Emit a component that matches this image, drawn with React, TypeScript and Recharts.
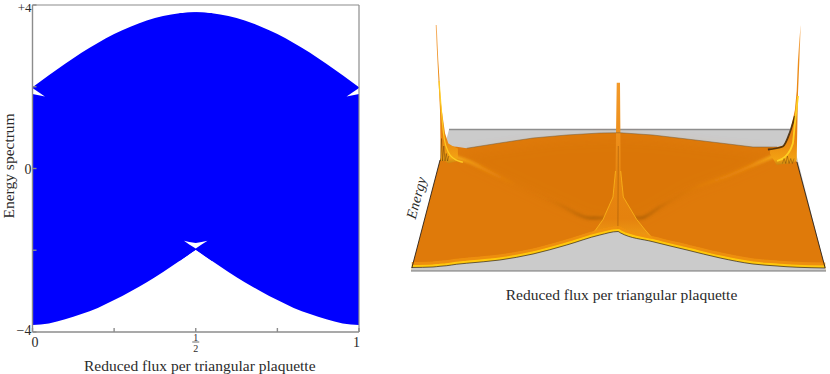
import { ComposedChart, Area, XAxis, YAxis } from 'recharts'

const FONT = '"Liberation Serif", serif'
const AXIS_LABEL = 'Reduced flux per triangular plaquette'
const TEXT = '#2b2b2b'

// left panel: energy spectrum band
const fluxGrid = [0, .05, .1, .15, .2, .25, .3, .35, .4, .45, .5, .55, .6, .65, .7, .75, .8, .85, .9, .95, 1]
const bandTop = [1.99, 2.28, 2.56, 2.83, 3.07, 3.29, 3.47, 3.62, 3.73, 3.8, 3.82, 3.8, 3.73, 3.62, 3.47, 3.29, 3.07, 2.83, 2.56, 2.28, 1.99]
const bandBottom = [-3.83, -3.79, -3.69, -3.56, -3.41, -3.22, -3.01, -2.78, -2.53, -2.26, -1.99, -2.26, -2.53, -2.78, -3.01, -3.22, -3.41, -3.56, -3.69, -3.79, -3.83]

const gapFlux = [.464, .48, .5, .518, .536]
const gapLow = [-1.77, -1.86, -1.957, -1.86, -1.77]
const gapHigh = [-1.77, -1.8, -1.82, -1.8, -1.77]
const leftGapFlux = [0, .038]
const leftGapLow = [1.82, 1.76]
const leftGapHigh = [1.97, 1.76]
const rightGapFlux = [.962, 1]
const rightGapLow = [1.76, 1.82]
const rightGapHigh = [1.76, 1.97]

const xTicks = [0, .25, .5, .75, 1]
const yTicks = [-4, -2, 0, 2, 4]
const yTickLabels: Record<string, string> = { '4': '+4', '0': '0', '-4': '\u22124' }

// right panel: surface outline, x = position across, h = height on screen
const floorFlux = [0, .0916, .913, 1]
const floorTop = [0, 56.6, 56.6, 0]
const bodyFlux = [.002, .053, .07, .085, .11, .134, .214, .294, .375, .455, .499, .504, .583, .665, .745, .824, .882, .906, .93, .998]
const bodyFront = [1.4, 1.6, 1.9, 2.1, 2.7, 3.1, 4.4, 6.8, 10.4, 14.4, 15.8, 15.3, 11.7, 8.4, 5.2, 2.8, 2, 1.7, 1.5, 1.2]
const bodyBack = [1.2, 33.6, 44.4, 50, 49.7, 49.1, 51.2, 53.2, 54.4, 55.2, 55.3, 55.3, 54.4, 52.8, 51.2, 49.6, 49.6, 50.5, 43.6, 1.2]

const shadeFlux = [.13, .19, .36, .431, .5, .552, .6, .672, .769, .841, .87]
const shadeLow = [44, 39.6, 26.4, 21.2, 20, 21.2, 25.6, 32.4, 38.4, 43.6, 46]
const shadeHigh = [47, 48, 52, 52.5, 53, 52.5, 52, 50.5, 48.5, 47.5, 47]

const leftRidgeFlux = [.106, .142, .19, .239, .359, .431, .47, .484]
const leftRidge = [45.6, 43.6, 39.6, 35.6, 26.4, 21.2, 21.2, 24.4]
const rightRidgeFlux = [.513, .523, .552, .6, .672, .769, .841, .88]
const rightRidge = [25.2, 21.6, 21.2, 25.6, 32.4, 38.4, 43.6, 46.4]

const leftSpikeFlux = [.0595, .0619, .0658, .0682, .07, .0715, .074, .082, .09, .1, .113]
const leftSpikeLow = [98.4, 90, 77.7, 70, 64, 44, 44, 44, 43, 43.5, 44]
const leftSpikeHigh = [98.4, 98.4, 84, 77.7, 72, 68, 64.4, 55.1, 51, 50, 49]
const leftArcFlux = [.0675, .08, .09, .103, .125]
const leftArc = [76, 53, 47.5, 45, 43.5]
const leftStreakFlux = [.071, .0735, .076, .079, .082, .085, .088, .091]
const leftStreak = [44, 53, 44, 50, 44, 47, 44, 46]

const rightSpikeFlux = [.865, .881, .896, .913, .925, .9294, .9325, .936, .939]
const rightSpikeLow = [47, 42.4, 42.8, 43, 43.6, 44.4, 71.2, 85, 97.6]
const rightSpikeHigh = [49, 49, 49.6, 55.2, 64.4, 72, 84.4, 93, 98.4]
const rightDarkFlux = [.86, .896, .913, .925]
const rightDark = [48.6, 49.8, 55.5, 62]
const rightArcFlux = [.882, .901, .92, .925, .9325]
const rightArc = [44, 45.6, 51, 59, 70]
const rightStreakFlux = [.895, .899, .903, .907, .911, .915, .919, .923]
const rightStreak = [43, 45, 43, 46, 43, 45, 43, 45]

const centerSpikeFlux = [.419, .443, .4627, .4867, .4928, .4957, .4995, .5036, .5053, .5116, .5439, .5663, .5904]
const centerSpikeLow = [12.6, 13.8, 14.8, 15.4, 15.6, 15.7, 15.8, 15.4, 15.3, 15, 13.4, 12.4, 11.4]
const centerSpikeHigh = [12.7, 16, 20.6, 29.6, 40, 75.3, 75.3, 75.3, 40, 29.6, 20.6, 16, 11.5]
const centerLeftRimFlux = [.419, .443, .4627, .4867, .4928]
const centerLeftRim = [12.7, 16, 20.6, 29.6, 40]
const centerRightRimFlux = [.5053, .5116, .5439, .5663, .5904]
const centerRightRim = [40, 29.6, 20.6, 16, 11.5]
const centerLineFlux = [.4985, .4995]
const centerLine = [16, 50]

const leftEdgeFlux = [.002, .07]
const leftEdge = [1.2, 44.4]
const rightEdgeFlux = [.93, .998]
const rightEdge = [43.6, 1.2]
const groundFlux = [0, 1]
const ground = [0, 0]
const belowGround = [-4, -4]

const points = (xs: number[], h: number[]) => xs.map((x, i) => ({ x, h: h[i] }))
const band = (xs: number[], lo: number[], hi: number[]) => xs.map((x, i) => ({ x, range: [lo[i], hi[i]] }))

function FluxTick({ x, y, payload }: any) {
  const v = payload.value
  if (v === 0.5) {
    return (
      <g fontFamily={FONT} fill={TEXT} textAnchor="middle">
        <text x={x} y={y - 1} fontSize={10}>1</text>
        <line x1={x - 3.5} x2={x + 3.5} y1={y} y2={y} stroke={TEXT} strokeWidth={0.7} />
        <text x={x} y={y + 10} fontSize={10}>2</text>
      </g>
    )
  }
  if (v !== 0 && v !== 1) return <g />
  return (
    <text x={x + (v === 0 ? 2.5 : -2.5)} y={y + 5} textAnchor="middle" fontFamily={FONT} fontSize={14} fill={TEXT}>
      {v}
    </text>
  )
}

function EnergyTick({ x, y, payload }: any) {
  const label = yTickLabels[String(payload.value)]
  if (!label) return <g />
  const top = payload.value === 4
  return (
    <text x={x} y={y + (top ? 7 : payload.value === -4 ? 3 : 5)} textAnchor="end" fontFamily={FONT} fontSize={top ? 13 : 14} fill={TEXT}>
      {label}
    </text>
  )
}

function SpectrumChart() {
  const blue = '#0000ff'
  const frame = '#8c8c8c'
  const patch = (data: any[], fill: string, type: any = 'linear') => (
    <Area data={data} dataKey="range" type={type} fill={fill} fillOpacity={1} stroke="none" dot={false} isAnimationActive={false} />
  )
  const wholeBand = band(fluxGrid, bandBottom, bandTop)
  return (
    <ComposedChart width={380} height={384} margin={{ top: 14, right: 20, bottom: 0, left: 0.5 }}>
      <XAxis xAxisId="top" orientation="top" type="number" dataKey="x" domain={[0, 1]} ticks={xTicks}
        height={1} tick={false} tickSize={-4} stroke={frame} strokeWidth={1.2} />
      <YAxis yAxisId="right" orientation="right" type="number" domain={[-4, 4]} ticks={yTicks}
        width={1} tick={false} tickSize={-4} stroke={frame} strokeWidth={1.2} />
      <XAxis type="number" dataKey="x" domain={[0, 1]} ticks={xTicks} interval={0} height={42}
        tick={<FluxTick />} tickSize={-4} tickMargin={14} stroke={frame} strokeWidth={1.4}
        label={{ value: AXIS_LABEL, position: 'insideBottom', offset: 3, dx: 4, fontFamily: FONT, fontSize: 15.5, fill: TEXT }} />
      <YAxis type="number" domain={[-4, 4]} ticks={yTicks} interval={0} width={32}
        tick={<EnergyTick />} tickSize={-4} tickMargin={5} stroke={frame} strokeWidth={1.4}
        label={{ value: 'Energy spectrum', position: 'insideLeft', angle: -90, offset: 7.5, dy: 50, fontFamily: FONT, fontSize: 15.5, fill: TEXT }} />
      {patch(wholeBand.slice(0, 11), blue, 'monotoneX')}
      {patch(wholeBand.slice(10), blue, 'monotoneX')}
      {patch(wholeBand.slice(9, 12), blue)}
      {patch(band(gapFlux, gapLow, gapHigh), '#fff')}
      {patch(band(leftGapFlux, leftGapLow, leftGapHigh), '#fff')}
      {patch(band(rightGapFlux, rightGapLow, rightGapHigh), '#fff')}
    </ComposedChart>
  )
}

function SurfaceChart() {
  const gray = '#cbcbcb'
  const fillArea = (data: any[], fill: string, opacity = 1, type: any = 'linear', filter?: string) => (
    <Area data={data} dataKey="range" type={type} fill={fill} fillOpacity={opacity} stroke="none" filter={filter} dot={false} isAnimationActive={false} />
  )
  // areas keep their drawing order, so strokes are unfilled areas too
  const stroke = (data: any[], color: string, width: number, opacity = 1, type: any = 'linear', filter?: string) => (
    <Area data={data} dataKey="h" type={type} fill="none" stroke={color} strokeWidth={width} strokeOpacity={opacity} filter={filter} dot={false} isAnimationActive={false} />
  )
  const blurFilter = (id: string, dev: number) => (
    <filter id={id} filterUnits="userSpaceOnUse" x="0" y="0" width="430" height="290">
      <feGaussianBlur stdDeviation={dev} />
    </filter>
  )
  return (
    <ComposedChart width={430} height={290} margin={{ top: 0, right: 4, bottom: 0, left: 11 }}>
      <defs>
        {blurFilter('soft1', 0.7)}
        {blurFilter('soft2', 1.4)}
        {blurFilter('soft6', 6)}
        <linearGradient id="spikeFill" x1="0" y1="0" x2="0" y2="1">
          <stop offset="0" stopColor="#f6b36a" />
          <stop offset="0.3" stopColor="#ec8a14" />
          <stop offset="0.8" stopColor="#e78210" />
          <stop offset="0.96" stopColor="#f3a212" />
          <stop offset="1" stopColor="#c98510" />
        </linearGradient>
        <linearGradient id="centerFill" x1="0" y1="0" x2="0" y2="1">
          <stop offset="0" stopColor="#f39a2a" />
          <stop offset="0.6" stopColor="#e8860f" />
          <stop offset="0.85" stopColor="#e5820e" />
          <stop offset="1" stopColor="#f0a014" />
        </linearGradient>
        <linearGradient id="leftRidge" x1="0" y1="0" x2="1" y2="0">
          <stop offset="0" stopColor="#ffc21f" stopOpacity={0.9} />
          <stop offset="0.2" stopColor="#f89c14" stopOpacity={0.6} />
          <stop offset="0.4" stopColor="#e88510" stopOpacity={0} />
          <stop offset="0.6" stopColor="#a55a06" stopOpacity={0.05} />
          <stop offset="0.88" stopColor="#7e4605" stopOpacity={0.55} />
          <stop offset="1" stopColor="#7e4605" stopOpacity={0.25} />
        </linearGradient>
        <linearGradient id="rightRidge" x1="0" y1="0" x2="1" y2="0">
          <stop offset="0" stopColor="#7e4605" stopOpacity={0.25} />
          <stop offset="0.12" stopColor="#7e4605" stopOpacity={0.55} />
          <stop offset="0.32" stopColor="#a55a06" stopOpacity={0.1} />
          <stop offset="0.5" stopColor="#f09010" stopOpacity={0.2} />
          <stop offset="0.82" stopColor="#f89c14" stopOpacity={0.65} />
          <stop offset="1" stopColor="#ffc21f" stopOpacity={0.95} />
        </linearGradient>
      </defs>
      <XAxis type="number" dataKey="x" domain={[0, 1]} height={30} tick={false} tickLine={false} axisLine={false}
        label={{ value: AXIS_LABEL, position: 'insideBottom', offset: 11, dx: 3, fontFamily: FONT, fontSize: 15.5, fill: TEXT }} />
      <YAxis hide type="number" domain={[-4, 100]} />
      {fillArea(band(floorFlux, floorTop.map(() => 0), floorTop), gray)}
      {stroke(points(floorFlux.slice(1, 3), floorTop.slice(1, 3)), '#8e8e8e', 1.4)}
      {fillArea(band(bodyFlux, bodyFront, bodyBack), '#df7a0a')}
      {fillArea(band(shadeFlux, shadeLow, shadeHigh), '#cf6c08', 0.3, 'linear', 'url(#soft6)')}
      {stroke(points(leftRidgeFlux, leftRidge), 'url(#leftRidge)', 2.6, 1, 'monotoneX', 'url(#soft2)')}
      {stroke(points(rightRidgeFlux, rightRidge), 'url(#rightRidge)', 2.6, 1, 'monotoneX', 'url(#soft2)')}
      {fillArea(band(centerSpikeFlux, centerSpikeLow, centerSpikeHigh), 'url(#centerFill)')}
      {stroke(points(centerLeftRimFlux, centerLeftRim), '#ffbf1c', 1, 0.7, 'linear', 'url(#soft1)')}
      {stroke(points(centerRightRimFlux, centerRightRim), '#ffbf1c', 1, 0.7, 'linear', 'url(#soft1)')}
      {stroke(points(centerLineFlux, centerLine), '#a65c08', 0.8, 0.8)}
      {stroke(points(bodyFlux, bodyFront), '#f09210', 11, 0.85, 'monotoneX', 'url(#soft1)')}
      {stroke(points(bodyFlux, bodyFront), '#ffc80d', 5, 1, 'monotoneX', 'url(#soft1)')}
      {fillArea(band(bodyFlux, bodyFlux.map(() => 0), bodyFront), gray, 1, 'monotoneX')}
      {fillArea(band(groundFlux, belowGround, ground), '#fff')}
      {stroke(points(bodyFlux, bodyFront), '#1d1208', 0.7, 0.9, 'monotoneX')}
      {stroke(points(bodyFlux.slice(5, 17), bodyBack.slice(5, 17)), '#6e5a3c', 0.5)}
      {fillArea(band(leftSpikeFlux, leftSpikeLow, leftSpikeHigh), 'url(#spikeFill)')}
      {stroke(points(leftArcFlux, leftArc), '#ffcf22', 1.3, 0.9, 'monotoneX', 'url(#soft1)')}
      {stroke(points(leftStreakFlux, leftStreak), '#6b3d08', 0.6, 0.8)}
      {fillArea(band(rightSpikeFlux, rightSpikeLow, rightSpikeHigh), 'url(#spikeFill)')}
      {stroke(points(rightDarkFlux, rightDark), '#3f2708', 1.8, 0.85, 'monotoneX', 'url(#soft1)')}
      {stroke(points(rightArcFlux, rightArc), '#ffd024', 1.8, 1, 'monotoneX', 'url(#soft1)')}
      {stroke(points(rightStreakFlux, rightStreak), '#6b3d08', 0.6, 0.7)}
      {stroke(points(leftEdgeFlux, leftEdge), '#2a2018', 0.9)}
      {stroke(points(rightEdgeFlux, rightEdge), '#2a2018', 0.9)}
      {stroke(points(groundFlux, ground), '#777', 1.2)}
      <text transform="translate(21 178) rotate(-75)" textAnchor="middle" fontFamily={FONT} fontStyle="italic" fontSize={14.5} letterSpacing={0.3} fill={TEXT}>
        Energy
      </text>
    </ComposedChart>
  )
}

export default function App() {
  return (
    <div style={{ position: 'fixed', left: 0, top: 0, width: 830, height: 374, background: '#fff', overflow: 'hidden' }}>
      <div style={{ position: 'absolute', left: 0, top: -10 }}>
        <SpectrumChart />
      </div>
      <div style={{ position: 'absolute', left: 400, top: 21 }}>
        <SurfaceChart />
      </div>
    </div>
  )
}
